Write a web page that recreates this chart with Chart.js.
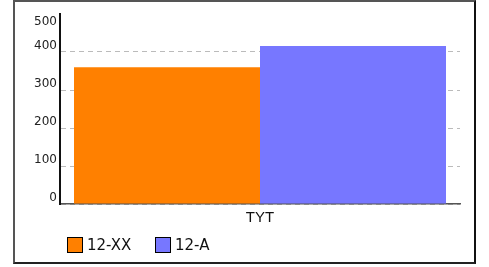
<!DOCTYPE html>
<html>
<head>
<meta charset="utf-8">
<script src="https://cdn.jsdelivr.net/npm/chart.js@4"></script>
<style>
    html, body { margin: 0; padding: 0; background: #fff; }
    #wrap { position: relative; width: 489px; height: 267px; overflow: hidden; }
    #frame {
        position: absolute; left: 13px; top: 0; width: 459px; height: 260px;
        border: 2px solid #555; border-right-color: #111; border-bottom-color: #222;
        pointer-events: none;
    }
    .leg { position: absolute; top: 237px; height: 16px; font: 15px 'DejaVu Sans', sans-serif; color: #111; }
    .leg i { position: absolute; left: 0; top: 0; width: 14px; height: 14px; border: 1px solid #000; }
    .leg span { position: absolute; left: 20px; top: -1px; white-space: nowrap; line-height: 18px; }
</style>
</head>
<body>
<div id="wrap">
    <canvas id="chart" width="489" height="267"></canvas>
    <div id="frame"></div>
</div>
<script>
const categories = ['TYT'];
const seriesNames = ['12-XX', '12-A'];
const seriesValues = [[360], [416]];
const seriesColors = ['#ff8000', '#7777ff'];
const yTicks = [0, 100, 200, 300, 400, 500];

// legend, built from the same series arrays
const legendX = [67, 155];
seriesNames.forEach((name, i) => {
    const el = document.createElement('div');
    el.className = 'leg';
    el.style.left = legendX[i] + 'px';
    el.innerHTML = '<i style="background:' + seriesColors[i] + '"></i><span>' + name + '</span>';
    document.getElementById('wrap').appendChild(el);
});

// y labels sit just above their grid line, the top one is pushed inside
const yLabels = {
    id: 'yLabels',
    afterDraw(chart) {
        const s = chart.scales.y;
        const c = chart.ctx;
        c.save();
        c.font = '12px "DejaVu Sans", sans-serif';
        c.fillStyle = '#222';
        c.textAlign = 'right';
        c.textBaseline = 'middle';
        yTicks.forEach(v => {
            const y = Math.max(s.getPixelForValue(v) - 6, chart.chartArea.top + 8);
            c.fillText(String(v), 57, y);
        });
        c.restore();
    }
};

new Chart(document.getElementById('chart'), {
    type: 'bar',
    data: {
        labels: categories,
        datasets: seriesNames.map((name, i) => ({
            label: name,
            data: seriesValues[i],
            backgroundColor: seriesColors[i],
            borderWidth: 0,
            categoryPercentage: 0.93,
            barPercentage: 1,
        }))
    },
    options: {
        responsive: false,
        animation: false,
        layout: { padding: { top: 14, right: 29, left: 0, bottom: 0 } },
        plugins: {
            legend: { display: false },
            tooltip: { enabled: false }
        },
        scales: {
            x: {
                afterFit: s => { s.height = 63; },
                grid: { display: false, drawTicks: false },
                border: { display: true, color: '#555', width: 1.5 },
                ticks: {
                    color: '#111',
                    padding: 5,
                    font: { family: "'Liberation Sans', sans-serif", size: 15 }
                }
            },
            y: {
                min: 0,
                max: 500,
                afterFit: s => { s.width = 60; },
                afterBuildTicks: s => { s.ticks = yTicks.map(v => ({ value: v })); },
                grid: {
                    drawTicks: false,
                    color: ctx => (ctx.tick && ctx.tick.value === 500) ? 'rgba(0,0,0,0)' : '#bbb',
                    lineWidth: 1
                },
                border: { display: true, color: '#111', width: 2, dash: [5, 4] },
                ticks: { display: false }
            }
        }
    },
    plugins: [yLabels]
});
</script>
</body>
</html>
